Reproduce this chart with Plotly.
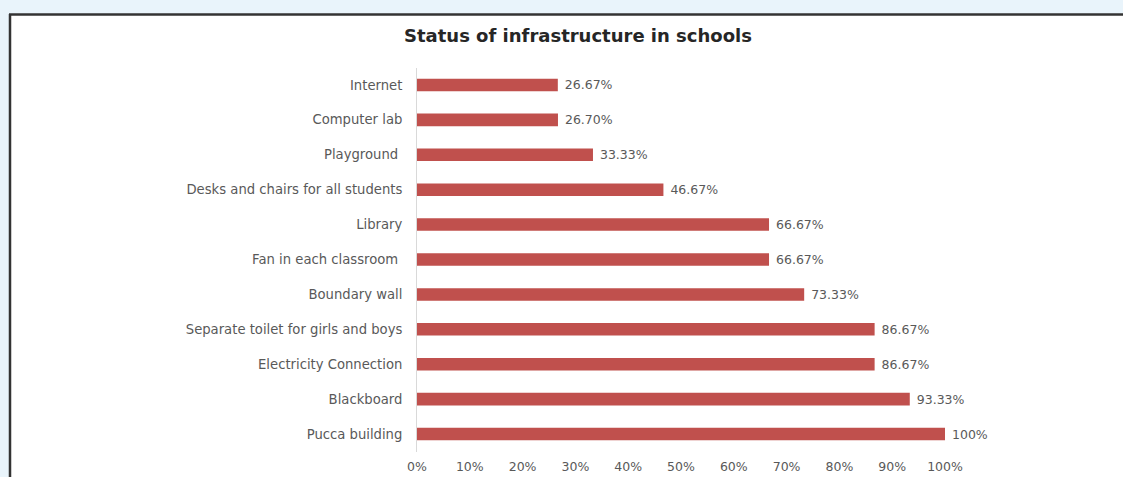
import plotly.graph_objects as go

# Share of schools with each facility (%), listed bottom to top
facilities = [
    "Pucca building",
    "Blackboard",
    "Electricity Connection",
    "Separate toilet for girls and boys",
    "Boundary wall",
    "Fan in each classroom ",
    "Library",
    "Desks and chairs for all students",
    "Playground ",
    "Computer lab",
    "Internet",
]
share_pct = [100, 93.33, 86.67, 86.67, 73.33, 66.67, 66.67, 46.67, 33.33, 26.70, 26.67]
x_tick_values = [0, 10, 20, 30, 40, 50, 60, 70, 80, 90, 100]
x_tick_labels = ["0%", "10%", "20%", "30%", "40%", "50%", "60%", "70%", "80%", "90%", "100%"]


def pct_label(v):
    s = f"{v:.0f}%" if float(v).is_integer() else f"{v:.2f}%"
    return "\u00a0" + s


W, H = 1123, 477
BAR_RED = "#C0504D"
TEXT_GREY = "#595959"
FONT = "DejaVu Sans"

fig = go.Figure(
    go.Bar(
        x=share_pct,
        y=facilities,
        orientation="h",
        marker=dict(color=BAR_RED, line=dict(width=0)),
        text=[pct_label(v) for v in share_pct],
        textposition="outside",
        constraintext="none",
        textfont=dict(family=FONT, size=12.5, color=TEXT_GREY),
        cliponaxis=False,
        width=0.36,
    )
)

fig.update_layout(
    width=W,
    height=H,
    margin=dict(l=0, r=0, t=0, b=0, autoexpand=False),
    paper_bgcolor="#e9f4fb",
    plot_bgcolor="rgba(0,0,0,0)",
    showlegend=False,
    xaxis=dict(
        domain=[417 / W, 945 / W],
        range=[0, 100],
        tickvals=x_tick_values,
        ticktext=x_tick_labels,
        showgrid=False,
        zeroline=False,
        showline=False,
        ticks="",
        automargin=False,
        ticklabelstandoff=6,
        tickfont=dict(family=FONT, size=12.5, color=TEXT_GREY),
        fixedrange=True,
    ),
    yaxis=dict(
        domain=[1 - 451.5 / H, 1 - 67.5 / H],
        range=[-0.5, len(facilities) - 0.5],
        showgrid=False,
        zeroline=False,
        showline=True,
        linecolor="#d9d9d9",
        linewidth=1,
        ticks="",
        automargin=False,
        ticklabelstandoff=11,
        tickfont=dict(family=FONT, size=13.2, color=TEXT_GREY),
        fixedrange=True,
    ),
    shapes=[
        # white chart panel with dark frame along top and left
        dict(type="rect", xref="paper", yref="paper",
             x0=10 / W, x1=1.0, y0=0, y1=1 - 15 / H,
             fillcolor="white", line=dict(width=0), layer="below"),
        dict(type="line", xref="paper", yref="paper",
             x0=9 / W, x1=1.0, y0=1 - 14.5 / H, y1=1 - 14.5 / H,
             line=dict(color="#333333", width=2.5)),
        dict(type="line", xref="paper", yref="paper",
             x0=10 / W, x1=10 / W, y0=0, y1=1 - 14 / H,
             line=dict(color="#333333", width=2.5)),
    ],
    annotations=[
        dict(text="<b>Status of infrastructure in schools</b>",
             xref="paper", yref="paper", x=578 / W, y=1 - 35 / H,
             xanchor="center", yanchor="middle", showarrow=False,
             font=dict(family=FONT, size=18, color="#262626")),
    ],
)

fig.write_html(
    "out.html",
    post_script="document.body.style.margin='0';document.body.style.overflow='hidden';",
)
